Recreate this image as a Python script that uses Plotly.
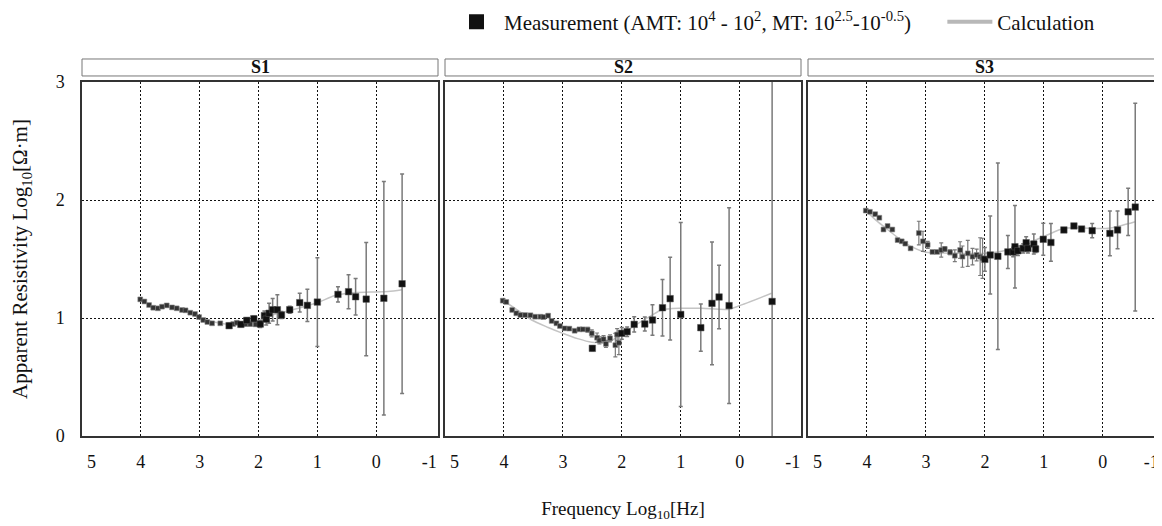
import plotly.graph_objects as go

# ---------------- data ----------------
panels = ["S1", "S2", "S3"]

# S1
s1_amt_x = [4.01, 3.94, 3.86, 3.79, 3.71, 3.64, 3.56, 3.47, 3.39, 3.30, 3.24, 3.16, 3.08, 3.01, 2.94, 2.87, 2.79, 2.65, 2.43, 2.37, 2.22, 2.14, 2.05]
s1_amt_y = [1.158, 1.14, 1.11, 1.087, 1.082, 1.096, 1.107, 1.09, 1.082, 1.068, 1.065, 1.045, 1.034, 1.008, 0.983, 0.966, 0.955, 0.955, 0.949, 0.96, 0.949, 0.949, 0.946]
s1_amt_e = [0.01, 0.01, 0.01, 0.01, 0.01, 0.01, 0.01, 0.01, 0.01, 0.01, 0.01, 0.01, 0.01, 0.01, 0.01, 0.01, 0.01, 0.01, 0.01, 0.01, 0.015, 0.015, 0.015]
s1_mt_x = [2.50, 2.30, 2.20, 2.08, 1.97, 1.90, 1.87, 1.82, 1.76, 1.68, 1.61, 1.47, 1.30, 1.17, 1.00, 0.65, 0.47, 0.35, 0.17, -0.13, -0.44]
s1_mt_y = [0.935, 0.946, 0.98, 0.994, 0.949, 1.02, 0.99, 1.04, 1.07, 1.07, 1.025, 1.07, 1.13, 1.107, 1.135, 1.2, 1.223, 1.18, 1.16, 1.167, 1.29]
s1_mt_e = [0.02, 0.02, 0.02, 0.02, 0.03, 0.04, 0.05, 0.085, 0.095, 0.127, 0.03, 0.03, 0.08, 0.136, 0.376, 0.065, 0.144, 0.155, 0.48, 0.99, 0.93]
s1_calc_x = [4.02, 3.8, 3.5, 3.2, 3.0, 2.8, 2.5, 2.2, 2.0, 1.8, 1.5, 1.2, 1.0, 0.7, 0.4, 0.1, -0.2, -0.44]
s1_calc_y = [1.155, 1.1, 1.09, 1.05, 1.0, 0.97, 0.945, 0.95, 0.98, 1.02, 1.06, 1.1, 1.13, 1.19, 1.215, 1.22, 1.225, 1.24]

# S2
s2_amt_x = [4.02, 3.96, 3.86, 3.79, 3.72, 3.64, 3.55, 3.47, 3.38, 3.33, 3.25, 3.19, 3.11, 3.05, 2.97, 2.89, 2.80, 2.72, 2.66, 2.58, 2.51, 2.42, 2.38, 2.31, 2.27, 2.20, 2.11, 2.08, 2.05]
s2_amt_y = [1.147, 1.136, 1.068, 1.04, 1.025, 1.025, 1.023, 1.011, 1.011, 1.008, 1.02, 0.975, 0.955, 0.932, 0.912, 0.91, 0.892, 0.904, 0.904, 0.901, 0.87, 0.833, 0.81, 0.82, 0.78, 0.828, 0.77, 0.86, 0.79]
s2_amt_e = [0.01, 0.01, 0.01, 0.01, 0.01, 0.01, 0.01, 0.01, 0.01, 0.01, 0.01, 0.01, 0.01, 0.01, 0.01, 0.01, 0.01, 0.01, 0.01, 0.02, 0.03, 0.04, 0.03, 0.03, 0.03, 0.03, 0.10, 0.05, 0.10]
s2_mt_x = [2.50, 2.00, 1.91, 1.79, 1.61, 1.48, 1.31, 1.18, 1.00, 0.66, 0.47, 0.35, 0.18, -0.55]
s2_mt_y = [0.743, 0.87, 0.884, 0.946, 0.949, 0.983, 1.087, 1.164, 1.03, 0.918, 1.124, 1.178, 1.105, 1.14]
s2_mt_e = [0.02, 0.05, 0.04, 0.065, 0.06, 0.13, 0.24, 0.35, 0.78, 0.2, 0.52, 0.27, 0.83, 3.0]
s2_calc_x = [4.02, 3.75, 3.53, 3.25, 3.0, 2.75, 2.51, 2.3, 2.17, 2.0, 1.72, 1.5, 1.33, 1.15, 1.0, 0.64, 0.20, 0.03, -0.54]
s2_calc_y = [1.15, 1.06, 0.983, 0.92, 0.87, 0.825, 0.795, 0.795, 0.81, 0.865, 0.955, 1.02, 1.068, 1.08, 1.082, 1.082, 1.073, 1.10, 1.21]

# S3
s3_amt_x = [4.02, 3.95, 3.86, 3.79, 3.72, 3.65, 3.57, 3.48, 3.41, 3.35, 3.26, 3.12, 3.05, 2.97, 2.89, 2.81, 2.74, 2.68, 2.59, 2.51, 2.42, 2.38, 2.29, 2.21, 2.14, 2.08, 2.04]
s3_amt_y = [1.91, 1.90, 1.88, 1.85, 1.75, 1.78, 1.75, 1.66, 1.65, 1.63, 1.59, 1.72, 1.65, 1.62, 1.56, 1.56, 1.576, 1.585, 1.557, 1.528, 1.576, 1.52, 1.548, 1.52, 1.534, 1.52, 1.506]
s3_amt_e = [0.01, 0.01, 0.01, 0.01, 0.01, 0.01, 0.01, 0.01, 0.01, 0.01, 0.01, 0.10, 0.085, 0.03, 0.01, 0.01, 0.06, 0.02, 0.02, 0.05, 0.07, 0.09, 0.11, 0.07, 0.05, 0.16, 0.17]
s3_mt_x = [2.00, 1.91, 1.78, 1.61, 1.52, 1.49, 1.44, 1.35, 1.30, 1.27, 1.17, 1.14, 1.01, 0.88, 0.66, 0.49, 0.36, 0.18, -0.12, -0.25, -0.43, -0.55]
s3_mt_y = [1.497, 1.534, 1.523, 1.56, 1.56, 1.604, 1.57, 1.59, 1.638, 1.59, 1.627, 1.585, 1.667, 1.64, 1.746, 1.78, 1.754, 1.74, 1.717, 1.746, 1.90, 1.94]
s3_mt_e = [0.10, 0.33, 0.79, 0.14, 0.04, 0.35, 0.04, 0.04, 0.05, 0.04, 0.085, 0.03, 0.135, 0.16, 0.01, 0.01, 0.01, 0.06, 0.19, 0.16, 0.20, 0.88]
s3_calc_x = [4.02, 3.85, 3.70, 3.50, 3.30, 3.0, 2.7, 2.45, 2.0, 1.61, 1.3, 1.0, 0.65, 0.2, -0.09, -0.55]
s3_calc_y = [1.91, 1.83, 1.77, 1.69, 1.62, 1.557, 1.55, 1.548, 1.548, 1.576, 1.63, 1.69, 1.76, 1.76, 1.76, 1.816]

x_tick_vals = [
    [4.84, 4, 3, 2, 1, 0, -0.9],
    [4.84, 4, 3, 2, 1, 0, -0.9],
    [4.84, 4, 3, 2, 1, 0, -0.82],
]
x_tick_text = ["5", "4", "3", "2", "1", "0", "-1"]
x_grid_vals = [4, 3, 2, 1, 0]
y_tick_vals = [0, 1, 2, 3]
y_tick_text = ["0", "1", "2", "3"]

data = [
    (s1_amt_x, s1_amt_y, s1_amt_e, s1_mt_x, s1_mt_y, s1_mt_e, s1_calc_x, s1_calc_y),
    (s2_amt_x, s2_amt_y, s2_amt_e, s2_mt_x, s2_mt_y, s2_mt_e, s2_calc_x, s2_calc_y),
    (s3_amt_x, s3_amt_y, s3_amt_e, s3_mt_x, s3_mt_y, s3_mt_e, s3_calc_x, s3_calc_y),
]

FONT = "Liberation Serif, Times New Roman, serif"
ERR_COLOR = "#7a7a7a"
CALC_COLOR = "#c4c4c4"
GRID_DASH = "2px,2px"

fig = go.Figure()

for i, (ax, ay, ae, mx, my, me, cx, cy) in enumerate(data):
    xa = "x" if i == 0 else f"x{i+1}"
    ya = "y" if i == 0 else f"y{i+1}"
    fig.add_trace(go.Scatter(x=cx, y=cy, mode="lines", line=dict(color=CALC_COLOR, width=1.5, shape="spline", smoothing=0.8),
                             xaxis=xa, yaxis=ya, showlegend=False, hoverinfo="skip"))
    fig.add_trace(go.Scatter(x=ax, y=ay, mode="markers", xaxis=xa, yaxis=ya, showlegend=False,
                             marker=dict(symbol="square", size=4.8, color="#333333", line=dict(color="#888888", width=0.6)),
                             error_y=dict(type="data", array=ae, color=ERR_COLOR, thickness=1.2, width=2)))
    fig.add_trace(go.Scatter(x=mx, y=my, mode="markers", xaxis=xa, yaxis=ya, showlegend=False,
                             marker=dict(symbol="square", size=6.5, color="#111111", line=dict(color="#555555", width=0.5)),
                             error_y=dict(type="data", array=me, color=ERR_COLOR, thickness=1.5, width=2)))

# legend-only entries
NB = "\u00a0"
fig.add_trace(go.Scatter(x=[None], y=[None], mode="markers",
                         name="Measurement (AMT: 10<sup>4</sup> - 10<sup>2</sup>, MT: 10<sup>2.5</sup>-10<sup>-0.5</sup>)" + NB * 5,
                         marker=dict(symbol="square", size=15, color="#111111")))
fig.add_trace(go.Scatter(x=[None], y=[None], mode="lines", name="Calculation",
                         line=dict(color="#b8b8b8", width=4)))

# the page body has an 8px margin, so the figure is placed 8px right/down
W, H = 1154, 518
ml, mr, mt, mb = 74, 2, 74, 90
pw = W - ml - mr
ph = H - mt - mb
def dom(a, b):
    return [(a - 82) / pw, (b - 82) / pw]

domains = [dom(82, 438), dom(445, 801), dom(808, 1160)]
xranges = [[5.0, -1.05], [5.0, -1.04], [5.0, -0.97]]

axis_common = dict(showline=True, mirror=True, linecolor="#333333", linewidth=1.5, zeroline=False, ticks="",
                   automargin=False, tickfont=dict(family=FONT, size=18, color="#111111"))

layout = dict(width=W, height=H, margin=dict(l=ml, r=mr, t=mt, b=mb, autoexpand=False), plot_bgcolor="white", paper_bgcolor="white",
              font=dict(family=FONT, color="#111111"),
              legend=dict(orientation="h", x=(1100 - 82) / pw, xanchor="right", y=1 + (74 - 14) / ph, yanchor="middle",
                          font=dict(family=FONT, size=21), bgcolor="rgba(0,0,0,0)", itemwidth=45),
              shapes=[], annotations=[])

for i in range(3):
    xk = "xaxis" if i == 0 else f"xaxis{i+1}"
    yk = "yaxis" if i == 0 else f"yaxis{i+1}"
    ya = "y" if i == 0 else f"y{i+1}"
    xa = "x" if i == 0 else f"x{i+1}"
    layout[xk] = dict(axis_common, domain=domains[i], range=xranges[i], anchor=ya, tickmode="array",
                      tickvals=x_tick_vals[i], ticktext=x_tick_text, showgrid=False, ticklabelstandoff=9,
                      minor=dict(tickmode="array", tickvals=x_grid_vals, showgrid=True, gridcolor="#111111",
                                 griddash=GRID_DASH, gridwidth=1, ticks=""))
    layout[yk] = dict(axis_common, domain=[0, 1], range=[0, 3], anchor=xa, tickmode="array",
                      tickvals=y_tick_vals, ticktext=y_tick_text, showgrid=True, gridcolor="#111111",
                      griddash=GRID_DASH, gridwidth=1, showticklabels=(i == 0), ticklabelstandoff=12)
    layout["shapes"].append(dict(type="rect", xref=f"{xa} domain", yref="paper", x0=0, x1=1, y0=1.017, y1=1.065,
                                 line=dict(color="#777777", width=1), fillcolor="white"))
    layout["annotations"].append(dict(text=f"<b>{panels[i]}</b>", xref=f"{xa} domain", yref="paper", x=0.5, y=1.041,
                                      showarrow=False, font=dict(family=FONT, size=18, color="#111111"),
                                      xanchor="center", yanchor="middle"))

layout["yaxis"]["title"] = dict(text="Apparent Resistivity Log<sub>10</sub>[Ω·m]", font=dict(family=FONT, size=21), standoff=22)
layout["xaxis2"]["title"] = dict(text="Frequency Log<sub>10</sub>[Hz]", font=dict(family=FONT, size=19), standoff=30)

fig.update_layout(**layout)
fig.write_html("out.html")
